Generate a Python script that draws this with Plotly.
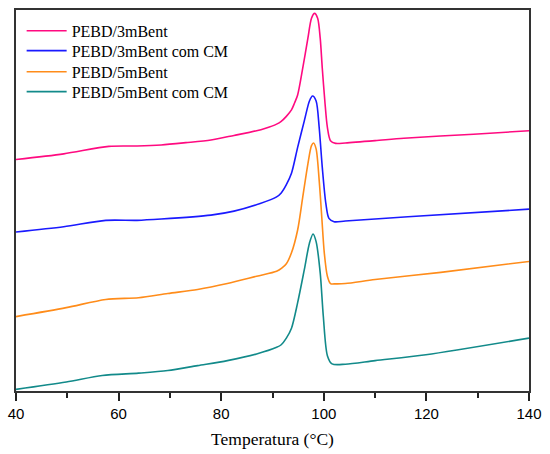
import plotly.graph_objects as go

# DSC melting curves: temperature (°C) vs heat flow (arbitrary units, offset per sample)
temp_3m = [40, 49.3, 58.1, 63.6, 68.3, 73.1, 78.0, 82.5, 86.9, 88.5, 90.8, 91.7, 92.7, 93.7,
           94.3, 94.9, 95.9, 96.9, 97.6, 98.2, 98.8, 99.3, 99.7, 100.2, 100.7, 101.3, 102.3,
           104.2, 110, 115.6, 129.2, 140]
flux_3m = [233.3, 239.0, 246.6, 247.0, 248.0, 250.3, 253.0, 257.6, 262.3, 264.6, 269.0, 271.8,
           276.8, 283.3, 290.3, 298.3, 325.6, 355.6, 375.6, 380.6, 375.6, 355.6, 325.6, 292.3,
           265.6, 252.3, 249.6, 250.0, 252.3, 254.8, 258.8, 262.3]

temp_3m_cm = [40, 49.3, 57.5, 63.6, 68.3, 78.0, 82.5, 87.6, 90.8, 91.7, 92.7, 93.7, 94.9, 96.2,
              97.2, 97.8, 98.5, 99.1, 99.7, 100.4, 101.0, 102.0, 104.2, 116.4, 140]
flux_3m_cm = [160.3, 165.6, 172.0, 172.0, 173.3, 177.3, 181.3, 189.0, 195.6, 199.6, 208.0, 219.5,
              245.6, 272.3, 292.3, 297.3, 292.3, 265.6, 225.6, 189.0, 174.0, 170.6, 171.3,
              175.6, 183.3]

temp_5m = [40, 49.8, 57.5, 63.9, 69.6, 75.4, 81.2, 86.9, 90.8, 91.8, 92.7, 93.7, 94.9, 95.9,
           96.9, 97.6, 98.0, 98.5, 99.1, 99.6, 100.1, 100.7, 101.3, 102.3, 104.2, 110, 122.8,
           140]
flux_5m = [75.0, 84.0, 92.3, 94.0, 98.3, 102.3, 108.3, 115.6, 120.6, 123.8, 128.3, 139.3, 162.3,
           195.6, 229.0, 247.3, 250.0, 244.0, 212.3, 175.6, 139.0, 115.6, 108.3, 108.0, 108.3,
           112.3, 119.6, 130.6]

temp_5m_cm = [40, 49.8, 56.8, 63.9, 69.6, 75.4, 81.2, 86.9, 90.8, 91.7, 92.7, 93.7, 94.9, 96.2,
              97.2, 97.9, 98.5, 99.3, 99.9, 100.7, 101.6, 104.2, 110, 119.9, 140]
flux_5m_cm = [1.6, 9.0, 15.6, 18.0, 20.6, 25.6, 30.6, 37.3, 44.0, 46.6, 53.3, 63.3, 89.0, 122.3,
              149.0, 158.3, 150.6, 119.0, 75.6, 35.6, 27.3, 27.0, 30.6, 36.5, 53.3]

series = [
    ("PEBD/3mBent", temp_3m, flux_3m, "#FF0A80"),
    ("PEBD/3mBent com CM", temp_3m_cm, flux_3m_cm, "#1A1AFF"),
    ("PEBD/5mBent", temp_5m, flux_5m, "#FF8C1A"),
    ("PEBD/5mBent com CM", temp_5m_cm, flux_5m_cm, "#128A8A"),
]

# one single-entry legend per curve so the rows sit close together
legend_ids = ["legend", "legend2", "legend3", "legend4"]
legend_rows = [0.9453, 0.8932, 0.8375, 0.7854]

fig = go.Figure()
for (name, t, f, color), lid in zip(series, legend_ids):
    fig.add_trace(go.Scatter(
        x=t, y=f, name=name, mode="lines", legend=lid,
        line=dict(color=color, width=1.6, shape="spline", smoothing=0.8),
    ))

legend_style = dict(
    x=0.011, xanchor="left", yanchor="middle",
    bgcolor="rgba(0,0,0,0)", borderwidth=0,
    font=dict(family="Liberation Serif", size=16, color="black"),
    itemwidth=40,
)

fig.update_layout(
    width=550, height=454,
    margin=dict(l=16, r=14, t=8, b=62),
    paper_bgcolor="white", plot_bgcolor="white",
    showlegend=True,
    **{lid: dict(legend_style, y=row) for lid, row in zip(legend_ids, legend_rows)},
)

fig.update_xaxes(
    range=[40, 140], tickvals=[40, 60, 80, 100, 120, 140],
    ticks="outside", ticklen=8, tickwidth=1.5, tickcolor="#222",
    minor=dict(tickvals=[50, 70, 90, 110, 130], ticks="outside", ticklen=5,
               tickwidth=1.5, tickcolor="#222"),
    showline=True, linecolor="#333", linewidth=1.6, mirror=True,
    showgrid=False, zeroline=False,
    tickfont=dict(family="Liberation Sans", size=15, color="black"),
    title=dict(text="Temperatura (°C)", standoff=12,
               font=dict(family="Liberation Serif", size=17.5, color="black")),
)
fig.update_yaxes(
    range=[0, 384], showticklabels=False, ticks="",
    showline=True, linecolor="#333", linewidth=1.6, mirror=True,
    showgrid=False, zeroline=False,
)

fig.write_html("out.html")
